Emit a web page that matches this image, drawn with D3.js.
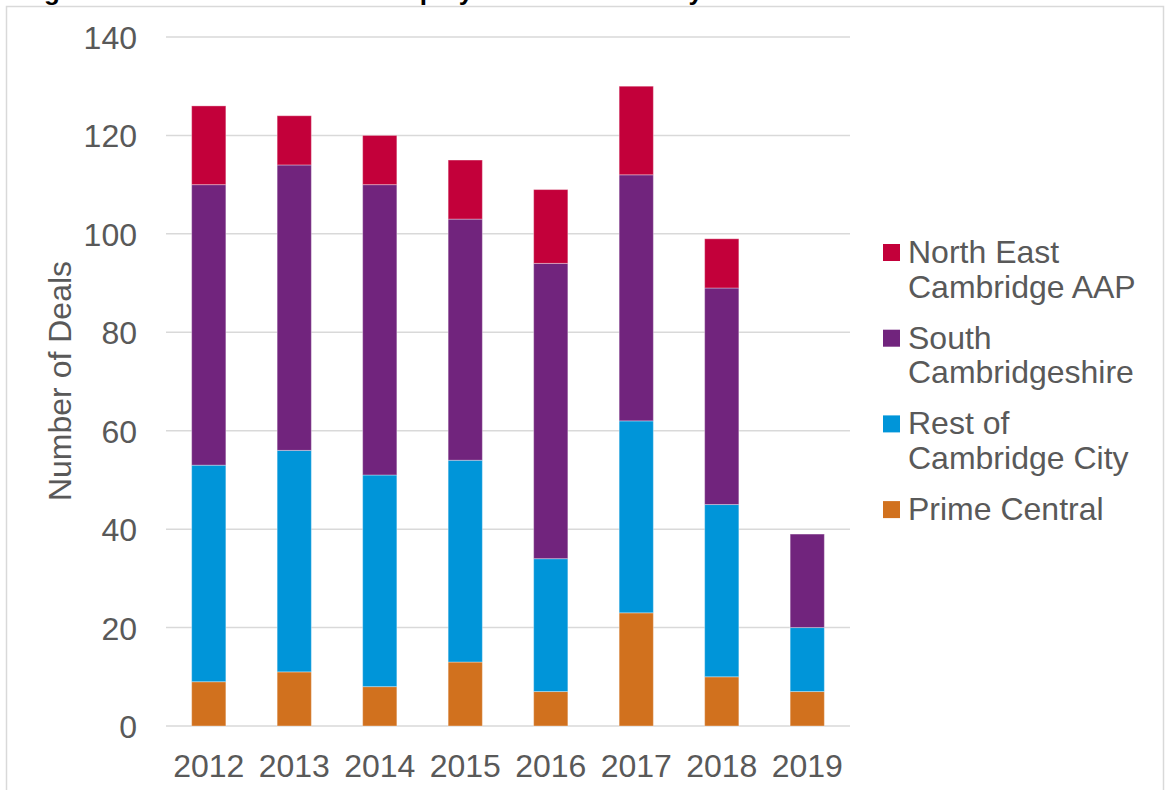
<!DOCTYPE html>
<html>
<head>
<meta charset="utf-8">
<script src="https://cdn.jsdelivr.net/npm/d3@7"></script>
<style>
  body { margin: 0; background: #fff; }
  svg text { font-family: "Liberation Sans", Arial, sans-serif; fill: #595959; }
</style>
</head>
<body>
<script>
// data
var years = ["2012", "2013", "2014", "2015", "2016", "2017", "2018", "2019"];
var primeCentral = [9, 11, 8, 13, 7, 23, 10, 7];
var restOfCity = [44, 45, 43, 41, 27, 39, 35, 13];
var southCambs = [57, 58, 59, 49, 60, 50, 44, 19];
var northEast = [16, 10, 10, 12, 15, 18, 10, 0];
var seriesKeys = ["prime", "rest", "south", "ne"];
var seriesColors = ["#D1711E", "#0095D9", "#71247D", "#C3003A"];
var legendLabels = [["North East", "Cambridge AAP"], ["South", "Cambridgeshire"], ["Rest of", "Cambridge City"], ["Prime Central"]];
var legendColors = ["#C3003A", "#71247D", "#0095D9", "#D1711E"];
var yTicks = [0, 20, 40, 60, 80, 100, 120, 140];

var W = 1165, H = 790;
var plot = {left: 166, right: 850, top: 37, bottom: 726};

var svg = d3.select("body").append("svg")
    .attr("width", W)
    .attr("height", H);

// frame round the figure
svg.append("rect")
    .attr("x", 6.5).attr("y", 6.5)
    .attr("width", 1157).attr("height", 820)
    .attr("fill", "none")
    .attr("stroke", "#D9D9D9")
    .attr("stroke-width", 1.5);

// title, mostly cut off at the top edge (only descenders show)
svg.append("text")
    .attr("x", 21).attr("y", 0)
    .style("font-size", "26px")
    .style("font-weight", "bold")
    .style("fill", "#000")
    .text("Figure 6: Number of Deals in employment Locations by Year");

var table = years.map(function(y, i) {
    return {year: y, prime: primeCentral[i], rest: restOfCity[i], south: southCambs[i], ne: northEast[i]};
});
var stacked = d3.stack().keys(seriesKeys)(table);

var x = d3.scaleBand()
    .domain(years)
    .range([plot.left, plot.right])
    .paddingInner(0.6)
    .paddingOuter(0.3);

var y = d3.scaleLinear()
    .domain([0, 140])
    .range([plot.bottom, plot.top]);

// gridlines
svg.append("g").selectAll("line")
    .data(yTicks)
    .enter().append("line")
    .attr("x1", plot.left).attr("x2", plot.right)
    .attr("y1", function(d) { return y(d); })
    .attr("y2", function(d) { return y(d); })
    .attr("stroke", "#D9D9D9")
    .attr("stroke-width", 1.5);

// y axis labels
var yAxis = d3.axisLeft(y).tickValues(yTicks).tickSize(0).tickPadding(29);
var yG = svg.append("g")
    .attr("transform", "translate(" + plot.left + ",0)")
    .call(yAxis);
yG.select(".domain").remove();
yG.selectAll("text")
    .style("font-size", "32px")
    .attr("dy", "0.36em");

// x axis labels
var xAxis = d3.axisBottom(x).tickSize(0).tickPadding(28);
var xG = svg.append("g")
    .attr("transform", "translate(0," + plot.bottom + ")")
    .call(xAxis);
xG.select(".domain").remove();
xG.selectAll("text")
    .style("font-size", "32px")
    .attr("dy", "0.71em");

// bars
svg.append("g").selectAll("g")
    .data(stacked)
    .enter().append("g")
    .attr("fill", function(d, i) { return seriesColors[i]; })
    .selectAll("rect")
    .data(function(d) { return d; })
    .enter().append("rect")
    .attr("x", function(d) { return x(d.data.year); })
    .attr("y", function(d) { return y(d[1]); })
    .attr("width", x.bandwidth())
    .attr("height", function(d) { return y(d[0]) - y(d[1]); })
    .attr("stroke", "#fff")
    .attr("stroke-opacity", 0.35)
    .attr("stroke-width", 1);

// y axis title
svg.append("text")
    .attr("transform", "translate(71,381) rotate(-90)")
    .attr("text-anchor", "middle")
    .style("font-size", "32px")
    .text("Number of Deals");

// legend
var legend = svg.append("g").selectAll("g")
    .data(legendLabels)
    .enter().append("g")
    .attr("transform", function(d, i) { return "translate(883," + (263 + i * 85.7) + ")"; });

legend.append("rect")
    .attr("x", 0).attr("y", -19)
    .attr("width", 17).attr("height", 17)
    .attr("fill", function(d, i) { return legendColors[i]; });

legend.append("text")
    .attr("x", 25).attr("y", 0)
    .style("font-size", "32px")
    .selectAll("tspan")
    .data(function(d) { return d; })
    .enter().append("tspan")
    .attr("x", 25)
    .attr("dy", function(d, i) { return i === 0 ? 0 : 34.5; })
    .text(function(d) { return d; });
</script>
</body>
</html>
